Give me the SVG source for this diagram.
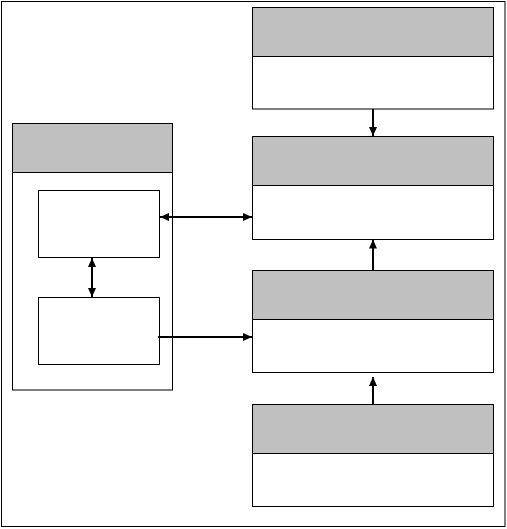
<svg xmlns="http://www.w3.org/2000/svg" width="507" height="529" viewBox="0 0 507 529">
<style>
.box{fill:#fff;stroke:#000;stroke-width:1}
.hdr{fill:#c0c0c0;stroke:#000;stroke-width:1}
.c{stroke:#000;stroke-width:2;fill:none}
</style>
<defs>
<marker id="ah" markerWidth="9" markerHeight="8" refX="9" refY="4" orient="auto" markerUnits="userSpaceOnUse">
<path d="M0,0 L9,4 L0,8 Z" fill="#000"/>
</marker>
<marker id="as" markerWidth="9" markerHeight="8" refX="0" refY="4" orient="auto" markerUnits="userSpaceOnUse">
<path d="M9,0 L0,4 L9,8 Z" fill="#000"/>
</marker>
</defs>
<rect x="0" y="0" width="507" height="529" fill="#fff"/>
<rect id="frame" x="1.5" y="1.5" width="503.5" height="525" fill="none" stroke="#000" stroke-width="1"/>
<g id="box1">
<rect class="box" x="252.5" y="7.5" width="241" height="101.5"/>
<rect class="hdr" x="252.5" y="7.5" width="241" height="49"/>
</g>
<g id="box2">
<rect class="box" x="252.5" y="136.5" width="241" height="103"/>
<rect class="hdr" x="252.5" y="136.5" width="241" height="49"/>
</g>
<g id="box3">
<rect class="box" x="252.5" y="270.5" width="241" height="102"/>
<rect class="hdr" x="252.5" y="270.5" width="241" height="49"/>
</g>
<g id="box4">
<rect class="box" x="252.5" y="404.5" width="241" height="102"/>
<rect class="hdr" x="252.5" y="404.5" width="241" height="49"/>
</g>
<g id="container">
<rect class="box" x="12.5" y="123.5" width="160" height="266.5"/>
<rect class="hdr" x="12.5" y="123.5" width="160" height="49"/>
</g>
<g id="inner1">
<rect class="box" x="38.5" y="190.5" width="121" height="67"/>
</g>
<g id="inner2">
<rect class="box" x="38.5" y="297.5" width="121" height="67"/>
</g>
<g id="connectors">
<line class="c" x1="373" y1="109" x2="373" y2="136" marker-end="url(#ah)"/>
<line class="c" x1="373" y1="270" x2="373" y2="239.5" marker-end="url(#ah)"/>
<line class="c" x1="373" y1="404" x2="373" y2="377" marker-end="url(#ah)"/>
<line class="c" x1="160" y1="217" x2="252" y2="217" marker-start="url(#as)" marker-end="url(#ah)"/>
<line class="c" x1="92" y1="258" x2="92" y2="297" marker-start="url(#as)" marker-end="url(#ah)"/>
<line class="c" x1="158" y1="337" x2="252" y2="337" marker-end="url(#ah)"/>
</g>
</svg>
